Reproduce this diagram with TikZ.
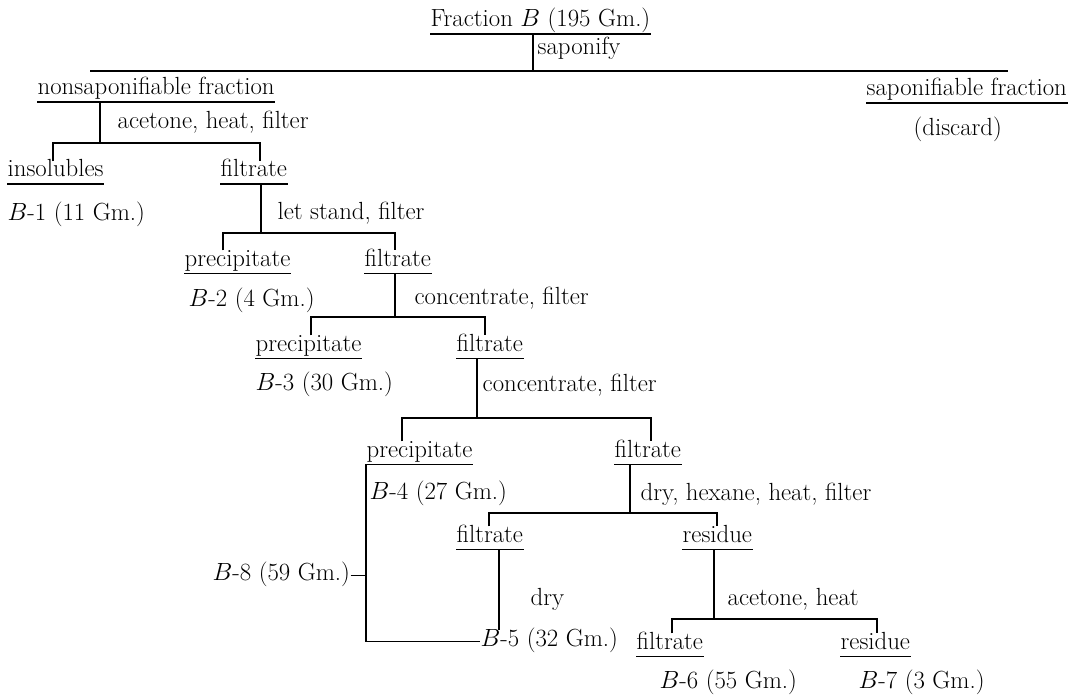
\documentclass[tikz,border=0pt]{standalone}
\usepackage{fontspec}
\begin{document}
\begin{tikzpicture}[x=1pt,y=-1pt,line width=1.35pt,
  every node/.style={font=\fontsize{24.8}{29}\selectfont,inner sep=0pt,anchor=base west,text height=15pt,text depth=6.5pt}]
\useasboundingbox (0,0) rectangle (1068,695);
% texts
\node (frac) at (430,27) {Fraction $B$\ (195 Gm.)};
\node (sap) at (537,55) {saponify};
\node (nonsap) at (37,95) {nonsaponifiable fraction};
\node (sapfr) at (866,96) {saponifiable fraction};
\node (l1) at (117,129) {acetone, heat, filter};
\node (disc) at (913,136) {(discard)};
\node (insol) at (7,177) {insolubles};
\node (f1) at (220,177) {filtrate};
\node (b1) at (7,221) {$B$-1 (11 Gm.)};
\node (l2) at (277,219) {let stand, filter};
\node (p1) at (184,266) {precipitate};
\node (f2) at (364,266) {filtrate};
\node (b2) at (188,306) {$B$-2 (4 Gm.)};
\node (l3) at (414,304) {concentrate, filter};
\node (p2) at (255,351) {precipitate};
\node (f3) at (456,351) {filtrate};
\node (b3) at (255,390) {$B$-3 (30 Gm.)};
\node (l4) at (482,391) {concentrate, filter};
\node (p3) at (366,457) {precipitate};
\node (f4) at (614,457) {filtrate};
\node (b4) at (369,499) {$B$-4 (27 Gm.)};
\node (l5) at (640,500) {dry, hexane, heat, filter};
\node (f5) at (456,542) {filtrate};
\node (r1) at (682,542) {residue};
\node (b8) at (212,580) {$B$-8 (59 Gm.)};
\node (l6) at (530,605) {dry};
\node (l7) at (727,605) {acetone, heat};
\node (b5) at (480,646) {$B$-5 (32 Gm.)};
\node (f6) at (636,649) {filtrate};
\node (r2) at (840,649) {residue};
\node (b6) at (659,688) {$B$-6 (55 Gm.)};
\node (b7) at (858,688) {$B$-7 (3 Gm.)};
% underlines
\foreach \n in {frac,nonsap,sapfr,insol,f1,p1,f2,p2,f3,p3,f4,f5,r1,f6,r2}
  \draw (\n.south west) -- (\n.south east);
% junction coordinates
\coordinate (j0) at (533,71);
\coordinate (j0L) at (90,71);
\coordinate (j0R) at (1008,71);
\coordinate (j1) at (100,143);
\coordinate (j1L) at (53,143);
\coordinate (j1R) at (260,143);
\coordinate (j2) at (261,233);
\coordinate (j2L) at (223,233);
\coordinate (j2R) at (395,233);
\coordinate (j3) at (395,317);
\coordinate (j3L) at (311,317);
\coordinate (j3R) at (485,317);
\coordinate (j4) at (477,418);
\coordinate (j4L) at (402,418);
\coordinate (j4R) at (651,418);
\coordinate (j5) at (630,513);
\coordinate (j5L) at (489,513);
\coordinate (j5R) at (717,513);
\coordinate (j6) at (714,619);
\coordinate (j6L) at (672,619);
\coordinate (j6R) at (877,619);
\coordinate (k5) at (499,600);
% connectors
\draw (frac.south -| j0) -- (j0);
\draw (j0L) -- (j0R);
\draw (nonsap.south -| j1) -- (j1);
\draw (insol.north -| j1L) -- (j1L) -- (j1R) -- (f1.north -| j1R);
\draw (f1.south -| j2) -- (j2);
\draw (p1.north -| j2L) -- (j2L) -- (j2R) -- (f2.north -| j2R);
\draw (f2.south -| j3) -- (j3);
\draw (p2.north -| j3L) -- (j3L) -- (j3R) -- (f3.north -| j3R);
\draw (f3.south -| j4) -- (j4);
\draw (p3.north -| j4L) -- (j4L) -- (j4R) -- (f4.north -| j4R);
\draw (f4.south -| j5) -- (j5);
\draw (f5.north -| j5L) -- (j5L) -- (j5R) -- (r1.north -| j5R);
\draw (r1.south -| j6) -- (j6);
\draw (f6.north -| j6L) -- (j6L) -- (j6R) -- (r2.north -| j6R);
\draw (f5.south -| k5) -- (b5.north -| k5);
\draw (p3.south west) |- (b5.west);
\draw (b8.east) -- (b8.east -| p3.south west);
\end{tikzpicture}
\end{document}
